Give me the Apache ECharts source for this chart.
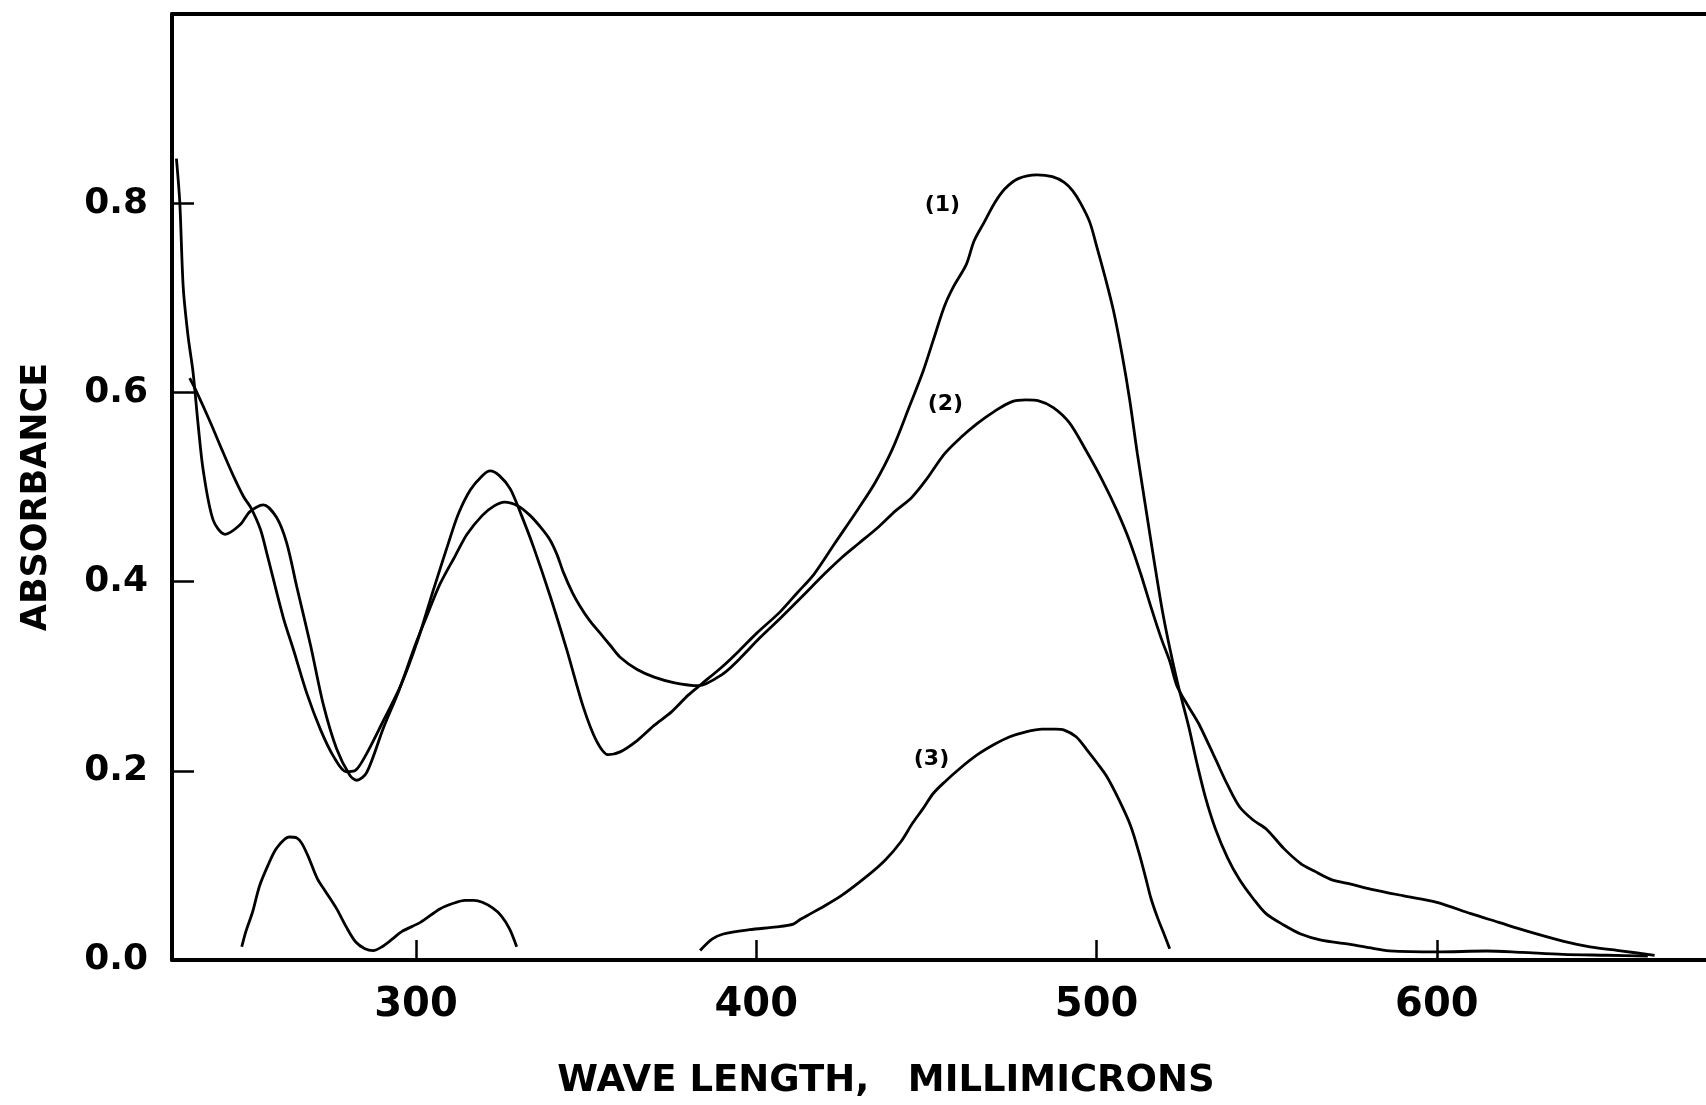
<!DOCTYPE html>
<html>
<head>
<meta charset="utf-8">
<title>Absorbance spectra</title>
<script src="https://cdn.jsdelivr.net/npm/echarts@6/dist/echarts.min.js"></script>
<style>
  html, body { margin: 0; padding: 0; background: #fff; }
  #chart { width: 1706px; height: 1105px; }
</style>
</head>
<body>
<div id="chart"></div>
<script>
// wave length (millimicrons), absorbance
const curve1 = [
    [233.5, 0.615], [235.6, 0.600], [239.5, 0.569], [242.9, 0.540], [246.3, 0.512], [249.3, 0.490],
    [251.5, 0.478], [254.3, 0.455], [256.3, 0.428], [261, 0.362], [264, 0.328], [268, 0.281],
    [272, 0.243], [275.8, 0.215], [279.5, 0.199], [282, 0.200], [285, 0.215], [290, 0.250],
    [295.5, 0.290], [300.5, 0.338], [305, 0.390], [310, 0.446], [312.5, 0.472], [316, 0.497],
    [319.5, 0.512], [321.8, 0.517], [324.5, 0.512], [327.7, 0.498], [331, 0.470], [334.5, 0.437],
    [339.4, 0.385], [344.3, 0.328], [349.2, 0.267], [353, 0.232], [356.5, 0.217], [360, 0.220],
    [365, 0.232], [370, 0.248], [375, 0.262], [380, 0.280], [384, 0.292], [390, 0.310],
    [395, 0.327], [400, 0.345], [407, 0.368], [412, 0.388], [417, 0.408], [423, 0.440],
    [430, 0.477], [435, 0.505], [440, 0.540], [445, 0.585], [449, 0.622], [452, 0.655],
    [455.3, 0.691], [458, 0.712], [461.7, 0.735], [464, 0.760], [467, 0.780], [470, 0.800],
    [473, 0.815], [477, 0.826], [482.5, 0.830], [487, 0.828], [490.5, 0.822], [493, 0.813],
    [495.3, 0.800], [498, 0.780], [500, 0.755], [502.5, 0.722], [505, 0.686], [507.5, 0.640],
    [509.7, 0.593], [512, 0.535], [514.5, 0.477], [517, 0.420], [519.3, 0.370], [521.5, 0.330],
    [524, 0.290], [527, 0.248], [529.5, 0.208], [532, 0.172], [535, 0.138], [538.5, 0.108],
    [542, 0.085], [546, 0.065], [549.8, 0.049], [555, 0.037], [560, 0.0275], [566, 0.021],
    [573.6, 0.017], [580, 0.013], [586, 0.0097], [600, 0.0085], [614.6, 0.0095], [625, 0.008],
    [637, 0.006], [650, 0.005], [662, 0.004]
];
const curve2 = [
    [229.6, 0.847], [230.6, 0.800], [231.6, 0.711], [233, 0.660], [234.5, 0.621], [236, 0.565],
    [237.5, 0.517], [240.4, 0.465], [243.9, 0.450], [248.3, 0.460], [251.2, 0.474], [255.1, 0.481],
    [259, 0.468], [262, 0.441], [265, 0.394], [269, 0.333], [272.7, 0.271], [276.7, 0.223],
    [280.6, 0.195], [282.6, 0.190], [285.5, 0.198], [290.4, 0.245], [295, 0.285], [300, 0.335],
    [303, 0.362], [307, 0.397], [311.5, 0.427], [315, 0.450], [319.5, 0.470], [323, 0.480],
    [326, 0.484], [330, 0.480], [333.5, 0.470], [336.5, 0.458], [339.4, 0.444], [341.5, 0.428],
    [343.3, 0.410], [346, 0.388], [348.2, 0.374], [351, 0.359], [354, 0.346], [357, 0.333],
    [360, 0.320], [365, 0.307], [370, 0.299], [376, 0.293], [383, 0.290], [390, 0.302],
    [395, 0.318], [400.9, 0.340], [407, 0.361], [413.7, 0.385], [420, 0.408], [425, 0.425],
    [430, 0.440], [436, 0.458], [441, 0.475], [445.7, 0.489], [450, 0.508], [455.3, 0.535],
    [460, 0.552], [464.9, 0.567], [470, 0.580], [475, 0.590], [479.3, 0.592], [483, 0.591],
    [487.3, 0.584], [492, 0.568], [497, 0.538], [502, 0.505], [506, 0.475], [509.7, 0.443],
    [513, 0.408], [516, 0.373], [519, 0.340], [521.5, 0.316], [523.6, 0.290], [527, 0.268],
    [530, 0.250], [535, 0.212], [538.5, 0.185], [542, 0.162], [546, 0.148], [550, 0.138],
    [555, 0.118], [560, 0.102], [564, 0.094], [569, 0.085], [575, 0.080], [580.5, 0.075],
    [590, 0.068], [600, 0.061], [610, 0.049], [618, 0.040], [626, 0.031], [637, 0.020],
    [645, 0.014], [654, 0.0097], [664, 0.005]
];
const curve3uv = [
    [248.8, 0.014], [250, 0.030], [252, 0.051], [254, 0.078], [256.5, 0.100], [259, 0.118],
    [262.7, 0.130], [265, 0.129], [266.5, 0.123], [268.5, 0.108], [271, 0.086], [273.5, 0.072],
    [276.7, 0.054], [279.5, 0.035], [282.3, 0.019], [285, 0.012], [287.4, 0.010], [290, 0.014],
    [293, 0.022], [295.8, 0.030], [301.4, 0.040], [307, 0.054], [311, 0.060], [314.4, 0.063],
    [317, 0.063], [319.5, 0.061], [322.5, 0.055], [325, 0.047], [327.5, 0.033], [329.6, 0.014]
];
const curve3vis = [
    [383.5, 0.010], [387, 0.022], [390.3, 0.0275], [398, 0.032], [406, 0.035], [410.9, 0.038],
    [413, 0.043], [416, 0.049], [419, 0.055], [425, 0.068], [433, 0.090], [438, 0.106],
    [442.5, 0.125], [446, 0.145], [449, 0.160], [452, 0.176], [455.3, 0.188], [460, 0.203],
    [465, 0.217], [470, 0.228], [474.5, 0.236], [479, 0.241], [484, 0.244], [488, 0.244],
    [490.5, 0.243], [494, 0.236], [497, 0.223], [500, 0.209], [503, 0.194], [506.5, 0.170],
    [510, 0.142], [512.5, 0.113], [514.5, 0.086], [516, 0.065], [518, 0.044], [520, 0.026],
    [521.5, 0.012]
];
// curve labels
const curveNames = ['(1)', '(2)', '(3)'];
const curveNameX = [454.7, 455.6, 451.5];
const curveNameY = [0.798, 0.587, 0.212];
// axis ticks
const xTicks = [300, 400, 500, 600];
const yTicks = [0.2, 0.4, 0.6, 0.8];
const yLabels = [0, 0.2, 0.4, 0.6, 0.8];

const font = 'DejaVu Sans';
const ink = '#000';

const lineSeries = function (name, data) {
    return {
        name: name,
        type: 'line',
        data: data,
        showSymbol: false,
        smooth: 0.3,
        lineStyle: { color: ink, width: 2.8 },
        silent: true,
        animation: false
    };
};

const option = {
    backgroundColor: '#fff',
    grid: {
        left: 172,
        right: 0,
        top: 14,
        bottom: 144
    },
    xAxis: [
        {
            type: 'value',
            min: 228.3,
            max: 679.1,
            name: 'WAVE LENGTH,   MILLIMICRONS',
            nameLocation: 'middle',
            nameGap: 103,
            nameTextStyle: {
                fontFamily: font,
                fontSize: 37,
                fontWeight: 'bold',
                color: ink,
                padding: [0, 106, 0, 0]
            },
            axisLine: { show: true, onZero: false, lineStyle: { color: ink, width: 4 } },
            axisTick: {
                show: true,
                inside: true,
                length: 20,
                customValues: xTicks,
                lineStyle: { color: ink, width: 2.5 }
            },
            axisLabel: {
                customValues: xTicks,
                margin: 26,
                fontFamily: font,
                fontSize: 40,
                fontWeight: 'bold',
                color: ink
            },
            splitLine: { show: false }
        },
        {
            type: 'value',
            position: 'top',
            min: 228.3,
            max: 679.1,
            axisLine: { show: true, onZero: false, lineStyle: { color: ink, width: 4 } },
            axisTick: { show: false },
            axisLabel: { show: false },
            splitLine: { show: false }
        }
    ],
    yAxis: {
        type: 'value',
        min: 0,
        max: 1,
        name: 'ABSORBANCE',
        nameLocation: 'middle',
        nameGap: 118,
        nameTextStyle: {
            fontFamily: font,
            fontSize: 35,
            fontWeight: 'bold',
            color: ink,
            padding: [0, 20, 0, 0]
        },
        axisLine: { show: true, onZero: false, lineStyle: { color: ink, width: 4 } },
        axisTick: {
            show: true,
            inside: true,
            length: 22,
            customValues: yTicks,
            lineStyle: { color: ink, width: 2.5 }
        },
        axisLabel: {
            customValues: yLabels,
            margin: 24,
            fontFamily: font,
            fontSize: 36,
            fontWeight: 'bold',
            color: ink,
            formatter: function (v) { return v.toFixed(1); }
        },
        splitLine: { show: false }
    },
    series: [
        lineSeries('1', curve1),
        lineSeries('2', curve2),
        lineSeries('3', curve3uv),
        lineSeries('3b', curve3vis),
        {
            name: 'labels',
            type: 'scatter',
            symbolSize: 0,
            silent: true,
            animation: false,
            itemStyle: { opacity: 1 },
            data: curveNames.map(function (n, i) {
                return { name: n, value: [curveNameX[i], curveNameY[i]] };
            }),
            label: {
                show: true,
                position: 'inside',
                formatter: '{b}',
                fontFamily: font,
                fontSize: 22,
                fontWeight: 'bold',
                color: ink,
                textBorderWidth: 0
            }
        }
    ]
};

const chart = echarts.init(document.getElementById('chart'));
chart.setOption(option);

window.addEventListener('resize', function () {
    chart.resize();
});
</script>
</body>
</html>
